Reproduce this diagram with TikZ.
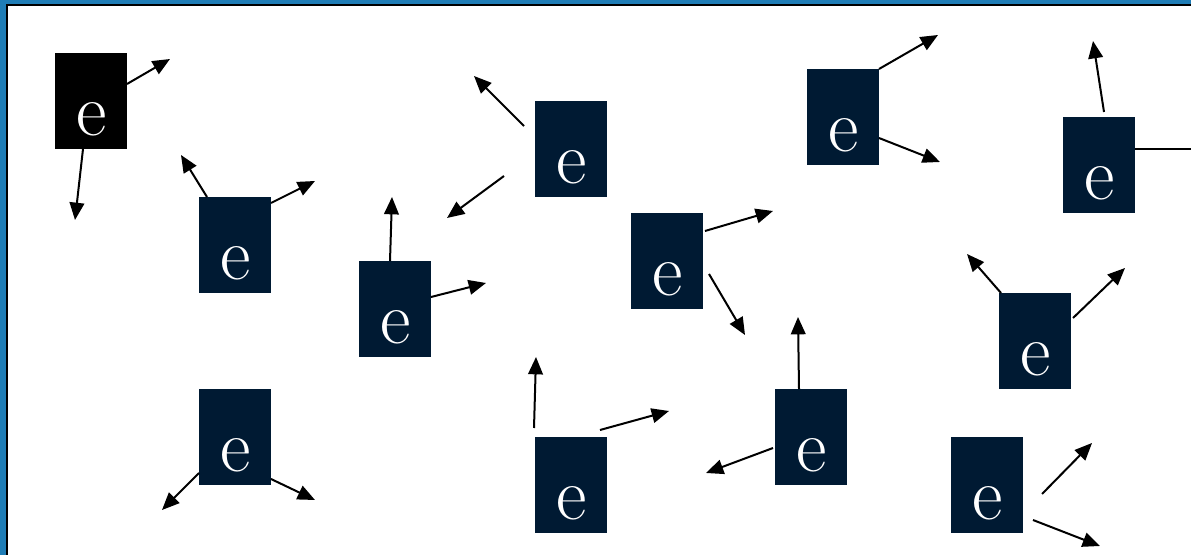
\documentclass[tikz,border=0pt]{standalone}
\usepackage{fontspec}
\usetikzlibrary{arrows.meta}
\definecolor{navy}{HTML}{001A33}
\definecolor{frameblue}{HTML}{1F7DB6}
\tikzset{
  ebox/.style={rectangle, fill=navy, draw=none, minimum width=54pt, minimum height=72pt, inner sep=0pt, anchor=north west},
  elabel/.style={text=white, anchor=base, inner sep=0pt, font=\rmfamily\fontsize{56}{56}\selectfont},
  arr/.style={line width=1.5pt, -{Triangle[length=13pt,width=11pt]}},
  plain/.style={line width=1.5pt},
}
\begin{document}
\begin{tikzpicture}[x=0.75pt,y=-0.75pt]
\useasboundingbox (0,0) rectangle (1191,555);
\fill[white] (0,0) rectangle (1191,555);
% frame
\fill[frameblue] (0,0) rectangle (1191,4);
\fill[frameblue] (0,0) rectangle (5.5,555);
\fill[black] (5.5,4) rectangle (1191,6.5);
\fill[black] (5.5,4) rectangle (8,555);
% boxes
\node[ebox, fill=black] (b1) at (55,53) {};
\node[ebox] (b2) at (199,197) {};
\node[ebox] (b3) at (359,261) {};
\node[ebox] (b4) at (535,101) {};
\node[ebox] (b5) at (631,213) {};
\node[ebox] (b6) at (807,69) {};
\node[ebox] (b7) at (1063,117) {};
\node[ebox] (b8) at (999,293) {};
\node[ebox] (b9) at (199,389) {};
\node[ebox] (b10) at (535,437) {};
\node[ebox] (b11) at (775,389) {};
\node[ebox] (b12) at (951,437) {};
\foreach \b in {b1,b2,b3,b4,b5,b6,b7,b8,b9,b10,b11,b12}{
  \node[elabel] (\b-e) at ([yshift=10.5pt]\b.south) {e};
}
% arrows
\draw[arr] (127,84) coordinate (a1s) -- (170,59) coordinate (a1e);
\draw[arr] (83,149) coordinate (a2s) -- (75,220) coordinate (a2e);
\draw[arr] (207,197) coordinate (a3s) -- (181,155) coordinate (a3e);
\draw[arr] (271,203) coordinate (a4s) -- (315,181) coordinate (a4e);
\draw[arr] (390,261) coordinate (a5s) -- (392,197) coordinate (a5e);
\draw[arr] (431,297) coordinate (a6s) -- (486,283) coordinate (a6e);
\draw[arr] (524,126) coordinate (a7s) -- (474,76) coordinate (a7e);
\draw[arr] (504,176) coordinate (a8s) -- (447,218) coordinate (a8e);
\draw[arr] (705,231) coordinate (a9s) -- (773,211) coordinate (a9e);
\draw[arr] (709,274) coordinate (a10s) -- (745,335) coordinate (a10e);
\draw[arr] (879,69) coordinate (a11s) -- (938,35) coordinate (a11e);
\draw[arr] (879,138) coordinate (a12s) -- (940,162) coordinate (a12e);
\draw[arr] (1104,112) coordinate (a13s) -- (1093,41) coordinate (a13e);
\draw[plain] (1135,149) coordinate (a14s) -- (1191,149) coordinate (a14e);
\draw[arr] (1001,293) coordinate (a15s) -- (967,254) coordinate (a15e);
\draw[arr] (1073,318) coordinate (a16s) -- (1125,268) coordinate (a16e);
\draw[arr] (199,473) coordinate (a17s) -- (162,510) coordinate (a17e);
\draw[arr] (271,479) coordinate (a18s) -- (315,500) coordinate (a18e);
\draw[arr] (534,428) coordinate (a19s) -- (536,357) coordinate (a19e);
\draw[arr] (600,430) coordinate (a20s) -- (669,411) coordinate (a20e);
\draw[arr] (799,389) coordinate (a21s) -- (798,317) coordinate (a21e);
\draw[arr] (773,448) coordinate (a22s) -- (706,473) coordinate (a22e);
\draw[arr] (1042,494) coordinate (a23s) -- (1092,443) coordinate (a23e);
\draw[arr] (1033,520) coordinate (a24s) -- (1100,546) coordinate (a24e);
\end{tikzpicture}
\end{document}
